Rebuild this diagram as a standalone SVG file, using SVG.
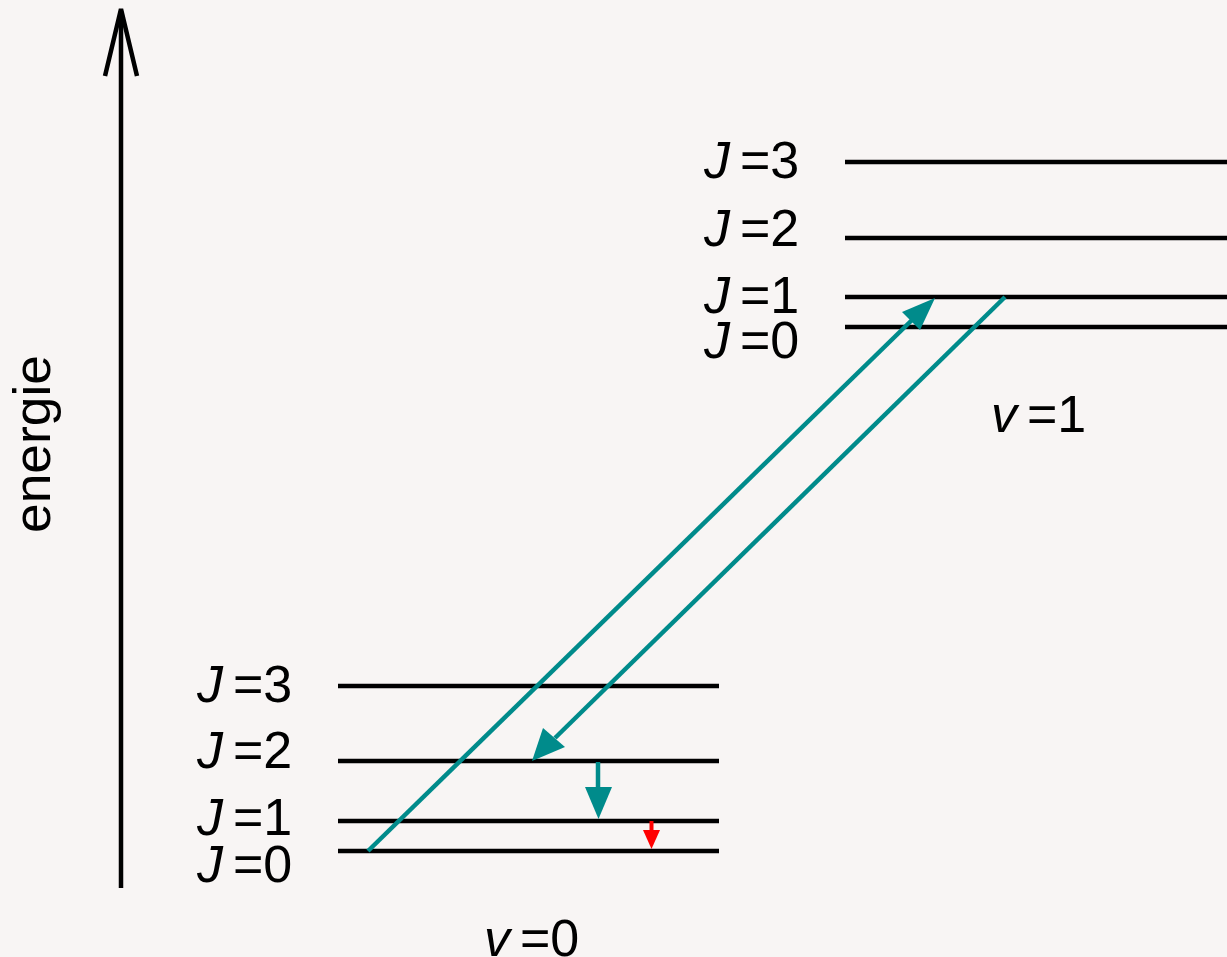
<svg xmlns="http://www.w3.org/2000/svg" width="1227" height="957" viewBox="0 0 1227 957">
<style>
.bg{fill:#f8f5f4}
.lvl{stroke:#000;stroke-width:4.5;fill:none}
.ax{stroke:#000;stroke-width:4.5;fill:none}
.lbl{font-family:"Liberation Sans",Arial,sans-serif;font-size:52px;fill:#000}
.it{font-style:italic}
.teal{stroke:#008b8b;stroke-width:4.5;fill:none}
.tealf{fill:#008b8b}
.red{stroke:#ff0000;stroke-width:4;fill:none}
.redf{fill:#ff0000}
</style>
<rect class="bg" x="0" y="0" width="1227" height="957"/>
<g id="axis">
<line class="ax" x1="121" y1="888" x2="121" y2="12"/>
<polyline class="ax" points="105,76 121,9 137,76" stroke-linejoin="miter"/>
<text class="lbl" transform="translate(50,533) rotate(-90)" font-size="44" textLength="178" lengthAdjust="spacingAndGlyphs">energie</text>
</g>
<g id="v0">
<line class="lvl" x1="338" y1="686" x2="719" y2="686"/>
<line class="lvl" x1="338" y1="761" x2="719" y2="761"/>
<line class="lvl" x1="338" y1="821" x2="719" y2="821"/>
<line class="lvl" x1="338" y1="851" x2="719" y2="851"/>
<text class="lbl" x="197" y="702"><tspan class="it">J</tspan><tspan dx="10">=3</tspan></text>
<text class="lbl" x="197" y="768"><tspan class="it">J</tspan><tspan dx="10">=2</tspan></text>
<text class="lbl" x="197" y="835"><tspan class="it">J</tspan><tspan dx="10">=1</tspan></text>
<text class="lbl" x="197" y="882"><tspan class="it">J</tspan><tspan dx="10">=0</tspan></text>
<text class="lbl" x="484" y="956"><tspan class="it">v</tspan><tspan dx="10">=0</tspan></text>
</g>
<g id="v1">
<line class="lvl" x1="845" y1="162" x2="1227" y2="162"/>
<line class="lvl" x1="845" y1="238" x2="1227" y2="238"/>
<line class="lvl" x1="845" y1="297" x2="1227" y2="297"/>
<line class="lvl" x1="845" y1="327" x2="1227" y2="327"/>
<text class="lbl" x="704" y="178"><tspan class="it">J</tspan><tspan dx="10">=3</tspan></text>
<text class="lbl" x="704" y="246"><tspan class="it">J</tspan><tspan dx="10">=2</tspan></text>
<text class="lbl" x="704" y="313"><tspan class="it">J</tspan><tspan dx="10">=1</tspan></text>
<text class="lbl" x="704" y="358"><tspan class="it">J</tspan><tspan dx="10">=0</tspan></text>
<text class="lbl" x="991" y="432"><tspan class="it">v</tspan><tspan dx="10">=1</tspan></text>
</g>
<g id="connectors">
<line class="teal" x1="368" y1="851" x2="912" y2="320"/>
<polygon class="tealf" points="935,298 902,312 920,330"/>
<line class="teal" x1="1005" y1="297" x2="555" y2="738"/>
<polygon class="tealf" points="532,761 543,728 565,747"/>
<line class="teal" x1="598" y1="762" x2="598" y2="790" stroke-width="4.5"/>
<polygon class="tealf" points="585,787 612,787 598.5,819"/>
<line class="red" x1="651.5" y1="821" x2="651.5" y2="832"/>
<polygon class="redf" points="643,830 660,830 651.5,849"/>
</g>
</svg>
